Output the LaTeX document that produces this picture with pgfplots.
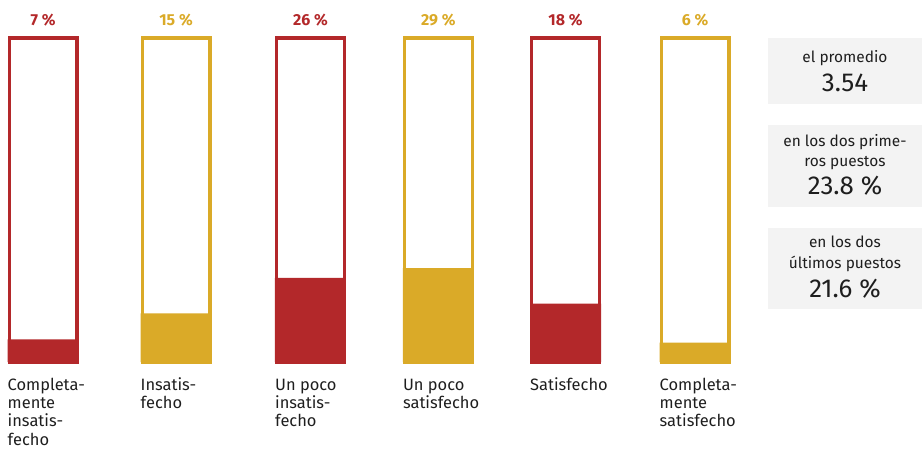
\documentclass[border=0pt]{standalone}
\usepackage{fontspec}
\setmainfont{Fira Sans}
\usepackage{pgfplots}
\pgfplotsset{compat=1.18}
\usepackage{pgfplotstable}

\definecolor{cred}{HTML}{B3282A}
\definecolor{cgold}{HTML}{DAAA28}
\definecolor{boxgray}{HTML}{F3F3F3}
\definecolor{txt}{HTML}{1E1E1E}

% pos = bar position, full = frame height, val = share in %
\pgfplotstableread{
pos full val
0.000 100 7
2.051 100 26
4.007 100 18
}\redtab
\pgfplotstableread{
pos full val
1.020 100 15
3.032 100 29
5.000 100 6
}\goldtab

\begin{document}
\begin{tikzpicture}
\begin{axis}[
    width=922bp, height=450bp, scale only axis,
    xmin=-0.3298, xmax=6.7408,
    ymin=-27.16, ymax=111.73,
    hide axis, clip=false,
    ybar,
    every node near coord/.append style={anchor=base, yshift=12bp,
        font=\bfseries\fontsize{16}{16}\selectfont},
]

% frames with the value on top
\addplot[draw=cred, fill=white, line width=3.2bp, bar width=67.8bp, bar shift=0pt,
    point meta=explicit symbolic, nodes near coords={\pgfplotspointmeta~\%},
    every node near coord/.append style={text=cred}]
    table[x=pos, y=full, meta=val] {\redtab};
\addplot[draw=cgold, fill=white, line width=3.2bp, bar width=67.8bp, bar shift=0pt,
    point meta=explicit symbolic, nodes near coords={\pgfplotspointmeta~\%},
    every node near coord/.append style={text=cgold}]
    table[x=pos, y=full, meta=val] {\goldtab};

% filled part
\addplot[fill=cred, draw=none, bar width=71bp, bar shift=0pt]
    table[x=pos, y=val] {\redtab};
\addplot[fill=cgold, draw=none, bar width=71bp, bar shift=0pt]
    table[x=pos, y=val] {\goldtab};

% category labels
\begin{scope}[every node/.style={anchor=north west, align=left, inner sep=0pt,
    xshift=-35.5bp, yshift=-15bp, text=txt,
    font=\fontsize{16.5}{18.5}\selectfont}]
\node at (axis cs:0.000,0) {\strut Completa-\\mente\\insatis-\\fecho};
\node at (axis cs:1.020,0) {\strut Insatis-\\fecho};
\node at (axis cs:2.051,0) {\strut Un poco\\insatis-\\fecho};
\node at (axis cs:3.032,0) {\strut Un poco\\satisfecho};
\node at (axis cs:4.007,0) {\strut Satisfecho};
\node at (axis cs:5.000,0) {\strut Completa-\\mente\\satisfecho};
\end{scope}

% summary boxes
\fill[boxgray] (axis cs:5.5598,100) rectangle (axis cs:6.7408,79.63);
\fill[boxgray] (axis cs:5.5598,73.15) rectangle (axis cs:6.7408,47.84);
\fill[boxgray] (axis cs:5.5598,41.36) rectangle (axis cs:6.7408,16.36);

\begin{scope}[every node/.style={anchor=base, inner sep=0pt, text=txt}]
\node[font=\fontsize{15.5}{16}\selectfont] at (axis cs:6.15,92.59) {el promedio};
\node[font=\fontsize{26}{26}\selectfont] at (axis cs:6.15,83.64) {3.54};
\node[font=\fontsize{15.5}{16}\selectfont] at (axis cs:6.15,66.36) {en los dos prime-};
\node[font=\fontsize{15.5}{16}\selectfont] at (axis cs:6.15,60.49) {ros puestos};
\node[font=\fontsize{26}{26}\selectfont] at (axis cs:6.15,51.85) {23.8~\%};
\node[font=\fontsize{15.5}{16}\selectfont] at (axis cs:6.15,35.19) {en los dos};
\node[font=\fontsize{15.5}{16}\selectfont] at (axis cs:6.15,29.01) {últimos puestos};
\node[font=\fontsize{26}{26}\selectfont] at (axis cs:6.15,20.06) {21.6~\%};
\end{scope}

\end{axis}
\pgfresetboundingbox
\path (current axis.south west) rectangle (current axis.north east);
\end{tikzpicture}
\end{document}
